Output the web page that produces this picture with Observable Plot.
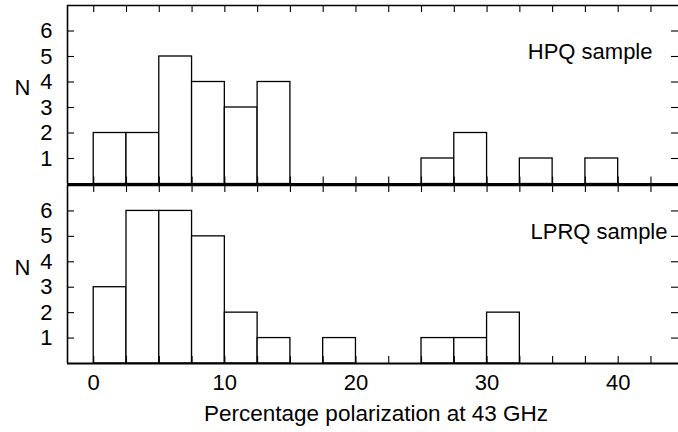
<!DOCTYPE html>
<html>
<head>
<meta charset="utf-8">
<script src="https://cdn.jsdelivr.net/npm/d3@7"></script>
<script src="https://cdn.jsdelivr.net/npm/@observablehq/plot@0.6"></script>
<style>
  html, body { margin: 0; padding: 0; background: white; }
  #chart { position: relative; width: 678px; height: 432px; }
  #chart svg { position: absolute; left: 0; overflow: visible; }
</style>
</head>
<body>
<div id="chart"></div>
<script>
// Histogram bin edges (percentage polarization, %)
const binEdges = [0, 2.5, 5, 7.5, 10, 12.5, 15, 17.5, 20, 22.5, 25, 27.5, 30, 32.5, 35, 37.5, 40];
// Counts per bin
const hpqCounts  = [2, 2, 5, 4, 3, 4, 0, 0, 0, 0, 1, 2, 0, 1, 0, 1];
const lprqCounts = [3, 6, 6, 5, 2, 1, 0, 1, 0, 0, 1, 1, 2, 0, 0, 0];
const panelLabels = ["HPQ sample", "LPRQ sample"];
const yTicks = [1, 2, 3, 4, 5, 6];
const xTicks = [0, 2.5, 5, 7.5, 10, 12.5, 15, 17.5, 20, 22.5, 25, 27.5, 30, 32.5, 35, 37.5, 40, 42.5];
const xTickLabels = [0, 10, 20, 30, 40];
const xLabel = "Percentage polarization at 43 GHz";
const yLabel = "N";

const W = 678;
const xDomain = [-2, 44.6];
const yDomain = [0, 7];
const font = "'Liberation Sans', Arial, Helvetica, sans-serif";
const fs = 22;

function panel(counts, label, {height, marginTop, marginBottom, showX, labelDx}) {
  const bins = counts.map((n, i) => ({x1: binEdges[i], x2: binEdges[i + 1], n}));
  const mL = 67, mR = 0;
  const plotW = W - mL - mR;
  const plotH = height - marginTop - marginBottom;
  const tick = 7;
  const marks = [
    Plot.rect(bins, {x1: "x1", x2: "x2", y1: () => 0, y2: "n", fill: "white", stroke: "black", strokeWidth: 1.3}),
    Plot.ruleY([yDomain[0]], {stroke: "black", strokeWidth: 2}),
    Plot.ruleY([yDomain[1]], {stroke: "black", strokeWidth: 1.4}),
    Plot.ruleX([xDomain[0]], {stroke: "black", strokeWidth: 1.6}),
    // inward ticks
    Plot.tickY(yTicks, {y: d => d, insetRight: plotW - tick, stroke: "black", strokeWidth: 1.1}),
    Plot.tickY(yTicks, {y: d => d, insetLeft: plotW - tick, stroke: "black", strokeWidth: 1.1}),
    Plot.tickX(xTicks, {x: d => d, insetBottom: plotH - tick, stroke: "black", strokeWidth: 1.1}),
    Plot.tickX(xTicks, {x: d => d, insetTop: plotH - tick, stroke: "black", strokeWidth: 1.1}),
    Plot.axisY({ticks: yTicks, tickFormat: d3.format("d"), tickSize: 0, tickPadding: 15, label: null, fontSize: fs}),
    Plot.text([yLabel], {frameAnchor: "left", textAnchor: "middle", lineAnchor: "middle", dx: -45, dy: -7, fontSize: fs, fill: "black"}),
    Plot.text([label], {frameAnchor: "top-right", textAnchor: "end", lineAnchor: "middle", dx: labelDx, dy: 46.5, fontSize: fs, fill: "black"})
  ];
  if (showX) {
    marks.push(Plot.axisX({ticks: xTickLabels, tickFormat: d3.format("d"), tickSize: 0, tickPadding: 11, label: null, fontSize: fs}));
    marks.push(Plot.text([xLabel], {frameAnchor: "bottom", lineAnchor: "middle", dx: 3, dy: 50, fontSize: 22.5, fill: "black"}));
  }
  return Plot.plot({
    width: W, height, marginLeft: mL, marginRight: mR, marginTop, marginBottom,
    x: {domain: xDomain, axis: null},
    y: {domain: yDomain, axis: null},
    style: {fontFamily: font, fontSize: fs + "px", color: "black", background: "transparent", overflow: "visible"},
    marks
  });
}

const topPanel = panel(hpqCounts, panelLabels[0], {height: 185, marginTop: 5, marginBottom: 1.5, showX: false, labelDx: -26});
const bottomPanel = panel(lprqCounts, panelLabels[1], {height: 248, marginTop: 1, marginBottom: 69, showX: true, labelDx: -11});
topPanel.style.top = "0px";
bottomPanel.style.top = "184px";
const chart = document.getElementById("chart");
chart.appendChild(topPanel);
chart.appendChild(bottomPanel);
</script>
</body>
</html>
